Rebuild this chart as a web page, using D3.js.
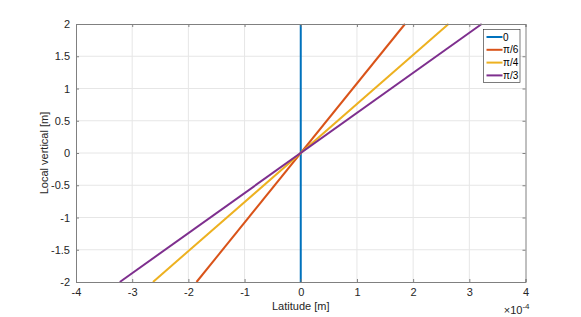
<!DOCTYPE html>
<html>
<head>
<meta charset="utf-8">
<script src="https://cdn.jsdelivr.net/npm/d3@7"></script>
<style>
  body { margin: 0; background: #fff; }
  svg { font-family: "Liberation Sans", Arial, sans-serif; }
</style>
</head>
<body>
<script>
// series: name, colour, endpoints (latitude in units of 1e-4 m, local vertical in m)
const names = ["0", "π/6", "π/4", "π/3"];
const colors = ["#0072BD", "#D95319", "#EDB120", "#7E2F8E"];
const latBottom = [0, -1.855, -2.63, -3.22];
const latTop = [0, 1.855, 2.63, 3.22];
const vertBottom = -2;
const vertTop = 2;

const xTicks = [-4, -3, -2, -1, 0, 1, 2, 3, 4];
const yTicks = [-2, -1.5, -1, -0.5, 0, 0.5, 1, 1.5, 2];

const width = 581, height = 317;
const margin = {left: 76, right: 55.5, top: 24, bottom: 35};

const svg = d3.select("body").append("svg")
  .attr("width", width)
  .attr("height", height);

const x = d3.scaleLinear().domain([-4, 4]).range([margin.left, width - margin.right]);
const y = d3.scaleLinear().domain([-2, 2]).range([height - margin.bottom, margin.top]);

// grid
svg.append("g").selectAll("line")
  .data(xTicks.slice(1, -1))
  .join("line")
  .attr("x1", d => x(d)).attr("x2", d => x(d))
  .attr("y1", y(-2)).attr("y2", y(2))
  .attr("stroke", "#e6e6e6").attr("stroke-width", 1);
svg.append("g").selectAll("line")
  .data(yTicks.slice(1, -1))
  .join("line")
  .attr("y1", d => y(d)).attr("y2", d => y(d))
  .attr("x1", x(-4)).attr("x2", x(4))
  .attr("stroke", "#e6e6e6").attr("stroke-width", 1);

// lines
const plot = svg.append("g");
names.forEach((n, i) => {
  plot.append("line")
    .attr("x1", x(latBottom[i])).attr("y1", y(vertBottom))
    .attr("x2", x(latTop[i])).attr("y2", y(vertTop))
    .attr("stroke", colors[i])
    .attr("stroke-width", 2);
});

// axes (MATLAB box style, ticks inward)
const axColor = "#262626";
const tl = -3;
const axBottom = d3.axisBottom(x).tickValues(xTicks).tickSize(tl).tickPadding(6).tickFormat(d => String(d));
const axLeft = d3.axisLeft(y).tickValues(yTicks).tickSize(tl).tickPadding(6).tickFormat(d => String(d));
const axTop = d3.axisTop(x).tickValues(xTicks).tickSize(tl).tickFormat("");
const axRight = d3.axisRight(y).tickValues(yTicks).tickSize(tl).tickFormat("");

function styleAxis(g) {
  g.select(".domain").attr("stroke", "#808080");
  g.selectAll(".tick line").attr("stroke", "#808080");
  g.selectAll(".tick text").attr("fill", axColor).attr("font-size", 11)
    .attr("font-family", "Liberation Sans, Arial, sans-serif");
}

svg.append("g").attr("transform", `translate(0,${y(-2)})`).call(axBottom).call(styleAxis);
svg.append("g").attr("transform", `translate(${x(-4)},0)`).call(axLeft).call(styleAxis);
svg.append("g").attr("transform", `translate(0,${y(2)})`).call(axTop).call(styleAxis);
svg.append("g").attr("transform", `translate(${x(4)},0)`).call(axRight).call(styleAxis);

// labels
svg.append("text")
  .attr("x", x(0)).attr("y", 310)
  .attr("text-anchor", "middle")
  .attr("font-size", 11).attr("fill", axColor)
  .text("Latitude [m]");

svg.append("text")
  .attr("transform", `translate(48,${y(0)}) rotate(-90)`)
  .attr("text-anchor", "middle")
  .attr("font-size", 11).attr("fill", axColor)
  .text("Local vertical [m]");

const ex = svg.append("text")
  .attr("x", x(4) + 4).attr("y", 314)
  .attr("text-anchor", "end")
  .attr("font-size", 11).attr("fill", axColor);
ex.append("tspan").text("×10");
ex.append("tspan").attr("dy", -5).attr("font-size", 8).text("-4");

// legend
const lg = svg.append("g").attr("transform", "translate(483.5,29.5)");
lg.append("rect")
  .attr("width", 36.5).attr("height", 53)
  .attr("fill", "#fff").attr("stroke", "#262626").attr("stroke-width", 0.6);
names.forEach((n, i) => {
  const yy = 7.5 + i * 12.8;
  lg.append("line")
    .attr("x1", 3).attr("x2", 19)
    .attr("y1", yy).attr("y2", yy)
    .attr("stroke", colors[i]).attr("stroke-width", 2);
  lg.append("text")
    .attr("x", 19.5).attr("y", yy + 3.5)
    .attr("font-size", 10).attr("fill", "#000")
    .text(n);
});
</script>
</body>
</html>
